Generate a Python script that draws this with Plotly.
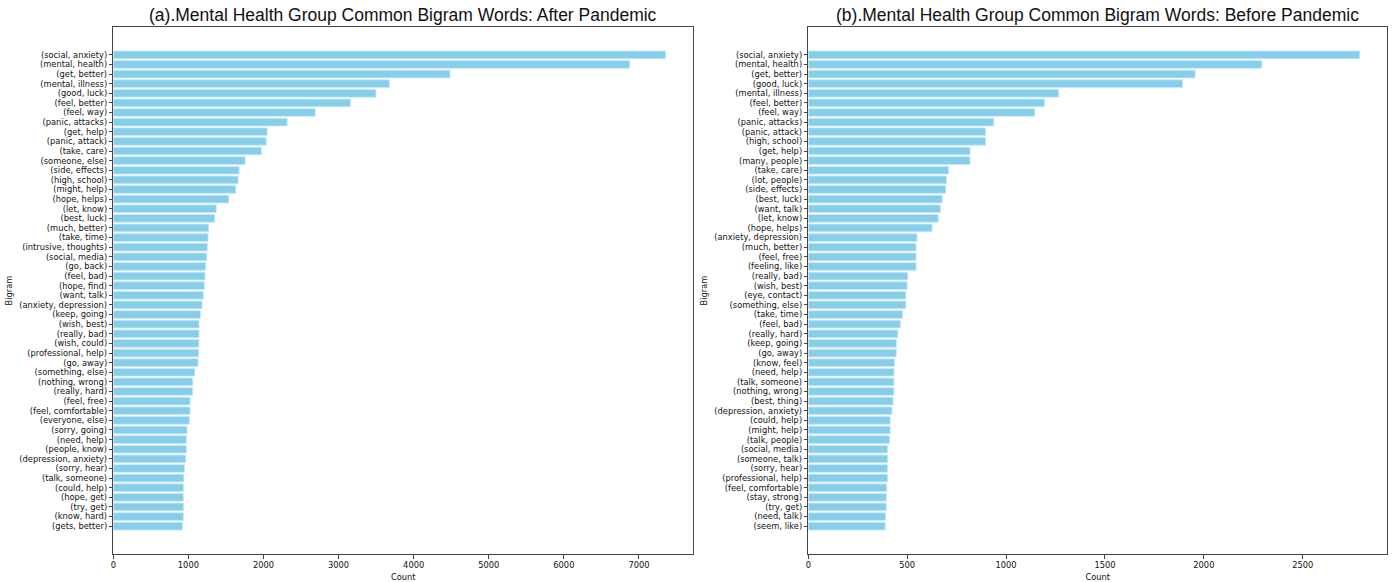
import plotly.graph_objects as go

# Most frequent bigrams, after the pandemic
after_bigrams = [
    "(social, anxiety)", "(mental, health)", "(get, better)", "(mental, illness)",
    "(good, luck)", "(feel, better)", "(feel, way)", "(panic, attacks)",
    "(get, help)", "(panic, attack)", "(take, care)", "(someone, else)",
    "(side, effects)", "(high, school)", "(might, help)", "(hope, helps)",
    "(let, know)", "(best, luck)", "(much, better)", "(take, time)",
    "(intrusive, thoughts)", "(social, media)", "(go, back)", "(feel, bad)",
    "(hope, find)", "(want, talk)", "(anxiety, depression)", "(keep, going)",
    "(wish, best)", "(really, bad)", "(wish, could)", "(professional, help)",
    "(go, away)", "(something, else)", "(nothing, wrong)", "(really, hard)",
    "(feel, free)", "(feel, comfortable)", "(everyone, else)", "(sorry, going)",
    "(need, help)", "(people, know)", "(depression, anxiety)", "(sorry, hear)",
    "(talk, someone)", "(could, help)", "(hope, get)", "(try, get)",
    "(know, hard)", "(gets, better)",
]
after_counts = [
    7356, 6876, 4485, 3676, 3498, 3160, 2689, 2316, 2049, 2036,
    1973, 1756, 1676, 1662, 1631, 1538, 1373, 1351, 1271, 1262,
    1253, 1244, 1231, 1222, 1213, 1200, 1182, 1160, 1142, 1142,
    1140, 1138, 1129, 1084, 1058, 1058, 1022, 1022, 1013, 982,
    973, 973, 964, 947, 938, 933, 933, 933, 933, 920,
]

# Most frequent bigrams, before the pandemic
before_bigrams = [
    "(social, anxiety)", "(mental, health)", "(get, better)", "(good, luck)",
    "(mental, illness)", "(feel, better)", "(feel, way)", "(panic, attacks)",
    "(panic, attack)", "(high, school)", "(get, help)", "(many, people)",
    "(take, care)", "(lot, people)", "(side, effects)", "(best, luck)",
    "(want, talk)", "(let, know)", "(hope, helps)", "(anxiety, depression)",
    "(much, better)", "(feel, free)", "(feeling, like)", "(really, bad)",
    "(wish, best)", "(eye, contact)", "(something, else)", "(take, time)",
    "(feel, bad)", "(really, hard)", "(keep, going)", "(go, away)",
    "(know, feel)", "(need, help)", "(talk, someone)", "(nothing, wrong)",
    "(best, thing)", "(depression, anxiety)", "(could, help)", "(might, help)",
    "(talk, people)", "(social, media)", "(someone, talk)", "(sorry, hear)",
    "(professional, help)", "(feel, comfortable)", "(stay, strong)", "(try, get)",
    "(need, talk)", "(seem, like)",
]
before_counts = [
    2788, 2293, 1956, 1892, 1266, 1195, 1145, 938, 896, 896,
    818, 818, 709, 699, 695, 677, 668, 657, 626, 550,
    545, 545, 545, 503, 500, 493, 493, 477, 465, 453,
    446, 445, 436, 433, 433, 433, 429, 423, 414, 414,
    411, 401, 401, 401, 401, 397, 394, 394, 391, 389,
]

after_ticks = [0, 1000, 2000, 3000, 4000, 5000, 6000, 7000]
before_ticks = [0, 500, 1000, 1500, 2000, 2500]

titles = [
    "(a).Mental Health Group Common Bigram Words: After Pandemic",
    "(b).Mental Health Group Common Bigram Words: Before Pandemic",
]

BAR = "#87CEEB"
EDGE = "#c9e9f6"
SPINE = "#444444"
TICK_FONT = dict(family="DejaVu Sans", size=8.3, color="#111111")

W, H = 1393, 582
left_dom = [113.3 / W, 693.3 / W]
right_dom = [808.3 / W, 1387.3 / W]
y_dom = [28 / H, (H - 27) / H]

fig = go.Figure()
fig.add_trace(go.Bar(
    x=after_counts, y=after_bigrams, orientation="h", width=0.8,
    marker=dict(color=BAR, line=dict(color=EDGE, width=0.8)),
    xaxis="x", yaxis="y", showlegend=False,
))
fig.add_trace(go.Bar(
    x=before_counts, y=before_bigrams, orientation="h", width=0.8,
    marker=dict(color=BAR, line=dict(color=EDGE, width=0.8)),
    xaxis="x2", yaxis="y2", showlegend=False,
))


def x_axis(dom, anchor, ticks, vmax):
    return dict(
        domain=dom, anchor=anchor, range=[0, vmax * 1.05],
        tickmode="array", tickvals=ticks, ticktext=[str(t) for t in ticks],
        ticks="outside", ticklen=3.5, tickwidth=1, tickcolor=SPINE,
        showline=True, linecolor=SPINE, linewidth=1, mirror=True,
        showgrid=False, zeroline=False, tickfont=TICK_FONT, automargin=False,
        title=dict(text="Count", font=TICK_FONT, standoff=4),
    )


def y_axis(dom, anchor, cats):
    n = len(cats)
    pad = 0.05 * (n - 1 + 0.8)
    return dict(
        domain=dom, anchor=anchor, type="category",
        categoryorder="array", categoryarray=cats,
        tickmode="array", tickvals=cats, ticktext=cats,
        range=[n - 1 + 0.4 + pad, -0.4 - pad],
        ticks="outside", ticklen=3.5, tickwidth=1, tickcolor=SPINE,
        showline=True, linecolor=SPINE, linewidth=1, mirror=True,
        showgrid=False, zeroline=False, tickfont=TICK_FONT, automargin=False,
        title=dict(text="Bigram", font=TICK_FONT, standoff=5),
    )


fig.update_layout(
    width=W, height=H,
    margin=dict(l=0, r=0, t=0, b=0, autoexpand=False),
    paper_bgcolor="white", plot_bgcolor="white",
    bargap=0.2,
    xaxis=x_axis(left_dom, "y", after_ticks, max(after_counts)),
    yaxis=y_axis(y_dom, "x", after_bigrams),
    xaxis2=x_axis(right_dom, "y2", before_ticks, max(before_counts)),
    yaxis2=y_axis(y_dom, "x2", before_bigrams),
    annotations=[
        dict(text=titles[0], x=sum(left_dom) / 2, y=1 - 14.5 / H,
             xref="paper", yref="paper", xanchor="center", yanchor="middle",
             showarrow=False,
             font=dict(family="Liberation Sans", size=17.5, color="#111111")),
        dict(text=titles[1], x=sum(right_dom) / 2, y=1 - 14.5 / H,
             xref="paper", yref="paper", xanchor="center", yanchor="middle",
             showarrow=False,
             font=dict(family="Liberation Sans", size=17.5, color="#111111")),
    ],
)

fig.write_html("out.html")
